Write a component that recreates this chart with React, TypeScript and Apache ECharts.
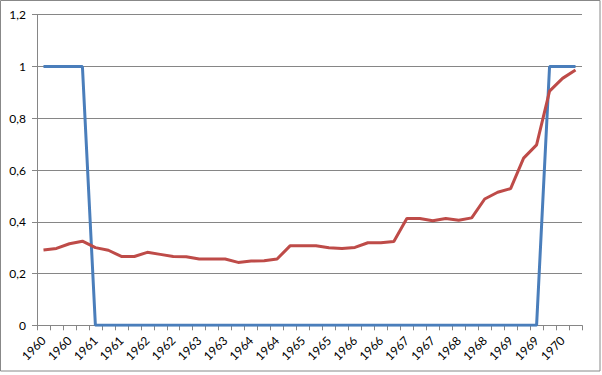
import React, { useEffect, useRef } from "react";
import * as echarts from "echarts";

const categories: string[] = [
  "1960", "1960", "1960", "1960",
  "1961", "1961", "1961", "1961",
  "1962", "1962", "1962", "1962",
  "1963", "1963", "1963", "1963",
  "1964", "1964", "1964", "1964",
  "1965", "1965", "1965", "1965",
  "1966", "1966", "1966", "1966",
  "1967", "1967", "1967", "1967",
  "1968", "1968", "1968", "1968",
  "1969", "1969", "1969", "1969",
  "1970", "1970",
];

const blueSeries: number[] = [
  1, 1, 1, 1,
  0, 0, 0, 0, 0, 0, 0, 0, 0, 0, 0, 0, 0, 0, 0, 0, 0, 0, 0, 0, 0, 0, 0, 0, 0, 0, 0, 0, 0, 0, 0, 0, 0, 0, 0,
  1, 1, 1,
];

const redSeries: number[] = [
  0.291, 0.297, 0.315, 0.325, 0.3, 0.29, 0.266, 0.266, 0.282, 0.274, 0.266, 0.265,
  0.256, 0.256, 0.256, 0.243, 0.248, 0.249, 0.256, 0.307, 0.307, 0.307, 0.3, 0.297,
  0.301, 0.319, 0.319, 0.324, 0.413, 0.413, 0.404, 0.413, 0.406, 0.415, 0.488, 0.514,
  0.528, 0.646, 0.697, 0.905, 0.954, 0.986,
];

const yMin = 0;
const yMax = 1.2;
const yStep = 0.2;

const FONT = "Lato, 'Noto Sans', sans-serif";

export default function App() {
  const ref = useRef<HTMLDivElement>(null);

  useEffect(() => {
    document.body.style.margin = "0";
    if (!ref.current) return;
    const chart = echarts.init(ref.current, null, { renderer: "svg" });
    chart.setOption({
      animation: false,
      backgroundColor: "#ffffff",
      graphic: [
        {
          type: "rect",
          shape: { x: 0.5, y: 0.5, width: 599.5, height: 370.5 },
          style: { fill: "none", stroke: "#888888", lineWidth: 1 },
          silent: true,
        },
      ],
      grid: { left: 37, right: 20, top: 14.7, bottom: 49.7, containLabel: false },
      xAxis: {
        type: "category",
        data: categories,
        boundaryGap: true,
        axisLine: { show: true, lineStyle: { color: "#868686", width: 1 } },
        axisTick: { show: true, interval: 0, length: 5, lineStyle: { color: "#868686" } },
        axisLabel: {
          interval: 1,
          rotate: 45,
          margin: 13,
          color: "#000000",
          fontFamily: FONT,
          fontSize: 12,
        },
        splitLine: { show: false },
      },
      yAxis: {
        type: "value",
        min: yMin,
        max: yMax,
        interval: yStep,
        axisLine: { show: true, lineStyle: { color: "#868686", width: 1 } },
        axisTick: { show: true, length: 5, lineStyle: { color: "#868686" } },
        axisLabel: {
          margin: 11,
          color: "#000000",
          fontFamily: FONT,
          fontSize: 12,
          formatter: (v: number) => String(Math.round(v * 10) / 10).replace(".", ","),
        },
        splitLine: { show: true, lineStyle: { color: "#868686", width: 1 } },
      },
      series: [
        {
          type: "line",
          data: blueSeries,
          showSymbol: false,
          symbol: "none",
          lineStyle: { color: "#4A7EBB", width: 3 },
          itemStyle: { color: "#4A7EBB" },
        },
        {
          type: "line",
          data: redSeries,
          showSymbol: false,
          symbol: "none",
          lineStyle: { color: "#BE4B48", width: 3 },
          itemStyle: { color: "#BE4B48" },
        },
      ],
    });
    return () => chart.dispose();
  }, []);

  return (
    <div
      ref={ref}
      style={{ position: "absolute", left: 0, top: 0, width: 602, height: 375 }}
    />
  );
}
